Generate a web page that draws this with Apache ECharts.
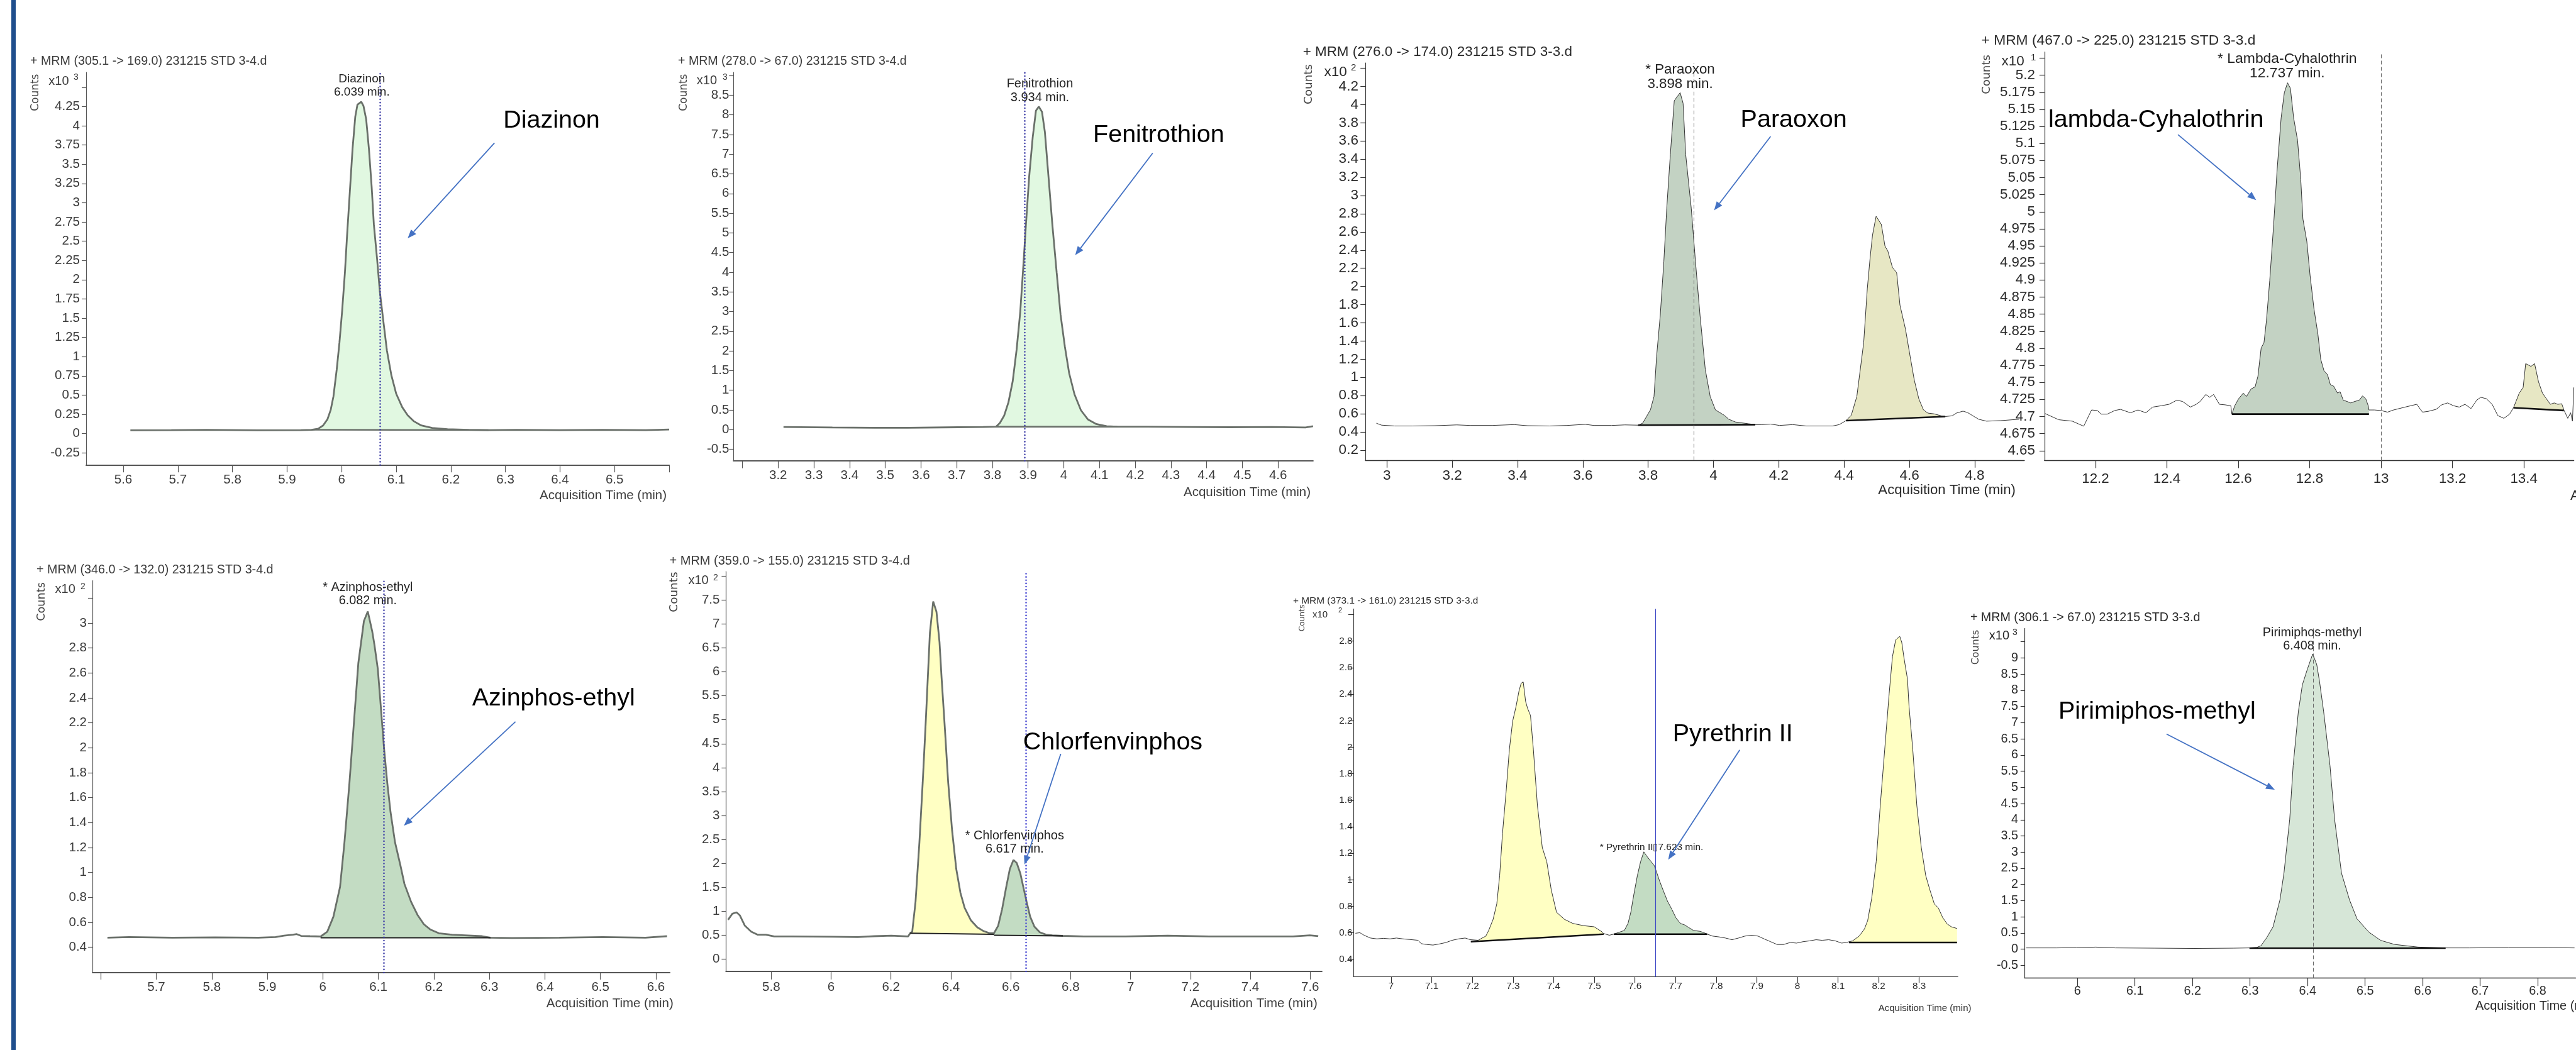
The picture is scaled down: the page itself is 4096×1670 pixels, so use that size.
<!DOCTYPE html>
<html><head><meta charset="utf-8">
<script src="https://cdn.jsdelivr.net/npm/echarts@6/dist/echarts.min.js"></script>
<style>html,body{margin:0;padding:0;background:#fff;overflow:hidden}#c{width:4096px;height:1670px}</style>
</head><body><div id="c"></div>
<script>
// ---------------- DATA (time in min, counts in the panel's x10^n unit) ----------------
const diazinonTrace = [[5.613,0.042],[5.688,0.045],[5.752,0.049],[5.846,0.042],[5.925,0.045],[5.945,0.049],[5.957,0.063],[5.966,0.105],[5.974,0.185],[5.980,0.308],[5.985,0.483],[5.991,0.832],[5.996,1.182],[6.001,1.601],[6.006,2.091],[6.010,2.580],[6.015,3.140],[6.020,3.699],[6.025,4.119],[6.029,4.276],[6.036,4.311],[6.040,4.259],[6.045,4.084],[6.050,3.699],[6.055,3.210],[6.059,2.720],[6.065,2.266],[6.070,1.846],[6.077,1.427],[6.083,1.077],[6.091,0.762],[6.100,0.517],[6.111,0.343],[6.121,0.238],[6.132,0.161],[6.146,0.105],[6.166,0.073],[6.194,0.056],[6.233,0.049],[6.269,0.045],[6.320,0.049],[6.399,0.045],[6.478,0.049],[6.557,0.045],[6.600,0.052]];
const diazinonBaselines = [[[5.945,0.049],[6.269,0.045]]];
const diazinonRT = 6.067;
const diazinonPeakLabel = ['Diazinon\n6.039 min.', 6.037, 4.52];
const diazinonCallout = ['Diazinon', 6.296, 4.066];
const diazinonArrow = [[6.280,3.776],[6.121,2.538]];
const diazinonXTicks = [5.6,5.7,5.8,5.9,6,6.1,6.2,6.3,6.4,6.5,6.6];
const diazinonXLabels = [5.6,5.7,5.8,5.9,6,6.1,6.2,6.3,6.4,6.5];
const diazinonYTicks = [-0.25,0,0.25,0.5,0.75,1,1.25,1.5,1.75,2,2.25,2.5,2.75,3,3.25,3.5,3.75,4,4.25,4.5];
const diazinonYLabels = [-0.25,0,0.25,0.5,0.75,1,1.25,1.5,1.75,2,2.25,2.5,2.75,3,3.25,3.5,3.75,4,4.25];

const fenitrothionTrace = [[3.215,0.067],[3.352,0.054],[3.470,0.047],[3.563,0.047],[3.704,0.061],[3.774,0.067],[3.810,0.074],[3.821,0.168],[3.833,0.357],[3.845,0.694],[3.857,1.233],[3.868,2.042],[3.878,2.985],[3.886,4.063],[3.894,5.209],[3.903,6.422],[3.913,7.433],[3.922,8.106],[3.930,8.208],[3.939,8.073],[3.947,7.567],[3.956,6.557],[3.968,5.209],[3.980,3.996],[3.991,2.918],[4.003,2.109],[4.015,1.435],[4.030,0.896],[4.048,0.492],[4.068,0.256],[4.091,0.142],[4.120,0.088],[4.150,0.074],[4.232,0.074],[4.349,0.067],[4.466,0.061],[4.583,0.067],[4.677,0.054],[4.698,0.088]];
const fenitrothionBaselines = [[[3.810,0.074],[4.150,0.074]]];
const fenitrothionRT = 3.889;
const fenitrothionPeakLabel = ['Fenitrothion\n3.934 min.', 3.933, 8.61];
const fenitrothionCallout = ['Fenitrothion', 4.082, 7.48];
const fenitrothionArrow = [[4.249,7.028],[4.032,4.434]];
const fenitrothionXTicks = [3.1,3.2,3.3,3.4,3.5,3.6,3.7,3.8,3.9,4,4.1,4.2,4.3,4.4,4.5,4.6];
const fenitrothionXLabels = [3.2,3.3,3.4,3.5,3.6,3.7,3.8,3.9,4,4.1,4.2,4.3,4.4,4.5,4.6];
const fenitrothionYTicks = [-0.5,0,0.5,1,1.5,2,2.5,3,3.5,4,4.5,5,5.5,6,6.5,7,7.5,8,8.5,9];
const fenitrothionYLabels = [-0.5,0,0.5,1,1.5,2,2.5,3,3.5,4,4.5,5,5.5,6,6.5,7,7.5,8,8.5];

const paraoxonTrace = [[2.968,0.496],[2.984,0.475],[3.024,0.466],[3.079,0.466],[3.146,0.469],[3.214,0.478],[3.255,0.472],[3.322,0.472],[3.390,0.481],[3.431,0.469],[3.498,0.466],[3.552,0.472],[3.607,0.484],[3.634,0.472],[3.688,0.472],[3.729,0.478],[3.769,0.475],[3.783,0.496],[3.807,0.643],[3.818,0.791],[3.826,1.235],[3.837,1.678],[3.848,2.270],[3.857,2.861],[3.868,3.452],[3.880,4.043],[3.898,4.132],[3.907,4.014],[3.915,3.452],[3.932,2.861],[3.945,2.270],[3.959,1.678],[3.975,1.087],[3.990,0.791],[4.006,0.643],[4.033,0.584],[4.047,0.540],[4.067,0.510],[4.108,0.490],[4.128,0.481],[4.148,0.481],[4.175,0.487],[4.202,0.472],[4.243,0.481],[4.284,0.466],[4.338,0.466],[4.365,0.466],[4.385,0.481],[4.406,0.525],[4.422,0.584],[4.439,0.791],[4.460,1.383],[4.471,1.974],[4.480,2.329],[4.487,2.565],[4.498,2.772],[4.514,2.683],[4.525,2.447],[4.534,2.388],[4.548,2.210],[4.561,2.151],[4.571,1.796],[4.588,1.530],[4.602,1.235],[4.615,0.969],[4.629,0.762],[4.643,0.643],[4.656,0.608],[4.676,0.599],[4.697,0.578],[4.710,0.570],[4.731,0.578],[4.744,0.608],[4.764,0.629],[4.778,0.614],[4.798,0.570],[4.812,0.540],[4.836,0.519],[4.880,0.525],[4.936,0.540]];
const paraoxonBaselines = [[[3.769,0.475],[4.128,0.481]],[[4.406,0.525],[4.710,0.570]]];
const paraoxonRT = 3.936;
const paraoxonPeakLabel = ['* Paraoxon\n3.898 min.', 3.898, 4.306];
const paraoxonCallout = ['Paraoxon', 4.083, 3.83];
const paraoxonArrow = [[4.175,3.650],[4.002,2.837]];
const paraoxonXTicks = [3,3.2,3.4,3.6,3.8,4,4.2,4.4,4.6,4.8];
const paraoxonXLabels = [3,3.2,3.4,3.6,3.8,4,4.2,4.4,4.6,4.8];
const paraoxonYTicks = [0.2,0.4,0.6,0.8,1,1.2,1.4,1.6,1.8,2,2.2,2.4,2.6,2.8,3,3.2,3.4,3.6,3.8,4,4.2,4.4];
const paraoxonYLabels = [0.2,0.4,0.6,0.8,1,1.2,1.4,1.6,1.8,2,2.2,2.4,2.6,2.8,3,3.2,3.4,3.6,3.8,4,4.2];

const cyhalothrinTrace = [[12.059,4.7043],[12.097,4.6953],[12.135,4.6932],[12.167,4.6858],[12.189,4.7096],[12.205,4.7088],[12.216,4.7035],[12.233,4.7035],[12.254,4.7088],[12.270,4.7105],[12.298,4.7055],[12.319,4.7096],[12.341,4.7055],[12.360,4.7138],[12.384,4.7158],[12.406,4.7179],[12.428,4.7240],[12.444,4.7220],[12.466,4.7138],[12.482,4.7179],[12.493,4.7220],[12.509,4.7323],[12.520,4.7282],[12.531,4.7323],[12.547,4.7179],[12.563,4.7171],[12.579,4.7158],[12.582,4.7035],[12.590,4.7158],[12.601,4.7261],[12.614,4.7343],[12.623,4.7294],[12.636,4.7405],[12.647,4.7434],[12.655,4.7590],[12.664,4.8002],[12.672,4.8084],[12.679,4.8413],[12.688,4.8989],[12.699,4.9812],[12.709,5.0634],[12.720,5.1375],[12.729,5.1745],[12.738,5.1889],[12.746,5.1807],[12.755,5.1375],[12.766,5.1046],[12.775,5.0470],[12.781,4.9894],[12.792,4.9565],[12.801,4.9071],[12.812,4.8577],[12.823,4.8207],[12.831,4.7837],[12.840,4.7672],[12.850,4.7611],[12.858,4.7467],[12.867,4.7446],[12.878,4.7343],[12.885,4.7364],[12.894,4.7240],[12.905,4.7220],[12.915,4.7199],[12.926,4.7220],[12.939,4.7240],[12.948,4.7302],[12.957,4.7261],[12.964,4.7158],[12.966,4.7096],[12.981,4.7096],[13.000,4.7088],[13.018,4.7064],[13.035,4.7096],[13.051,4.7117],[13.067,4.7138],[13.083,4.7158],[13.100,4.7179],[13.116,4.7064],[13.132,4.7076],[13.154,4.7105],[13.170,4.7171],[13.186,4.7199],[13.203,4.7158],[13.219,4.7138],[13.235,4.7179],[13.252,4.7117],[13.268,4.7240],[13.279,4.7282],[13.295,4.7261],[13.311,4.7179],[13.327,4.7014],[13.344,4.6973],[13.360,4.7035],[13.371,4.7129],[13.387,4.7343],[13.398,4.7426],[13.405,4.7775],[13.420,4.7734],[13.430,4.7775],[13.441,4.7508],[13.452,4.7343],[13.463,4.7261],[13.474,4.7179],[13.485,4.7199],[13.495,4.7179],[13.506,4.7187],[13.512,4.7096],[13.523,4.6973],[13.531,4.7055],[13.536,4.6932],[13.540,4.7426]];
const cyhalothrinBaselines = [[[12.582,4.7035],[12.966,4.7035]],[[13.371,4.7129],[13.512,4.7088]]];
const cyhalothrinRT = 13.0;
const cyhalothrinPeakLabel = ['* Lambda-Cyhalothrin\n12.737 min.', 12.737, 5.213];
const cyhalothrinCallout = ['lambda-Cyhalothrin', 12.068, 5.134];
const cyhalothrinArrow = [[12.431,5.113],[12.650,5.017]];
const cyhalothrinXTicks = [12.2,12.4,12.6,12.8,13,13.2,13.4];
const cyhalothrinXLabels = [12.2,12.4,12.6,12.8,13,13.2,13.4];
const cyhalothrinYTicks = [4.65,4.675,4.7,4.725,4.75,4.775,4.8,4.825,4.85,4.875,4.9,4.925,4.95,4.975,5,5.025,5.05,5.075,5.1,5.125,5.15,5.175,5.2,5.225];
const cyhalothrinYLabels = [4.65,4.675,4.7,4.725,4.75,4.775,4.8,4.825,4.85,4.875,4.9,4.925,4.95,4.975,5,5.025,5.05,5.075,5.1,5.125,5.15,5.175,5.2];

const azinphosTrace = [[5.612,0.4767],[5.651,0.4815],[5.729,0.4767],[5.806,0.4791],[5.884,0.4767],[5.915,0.4815],[5.930,0.4935],[5.946,0.5006],[5.953,0.5054],[5.961,0.4911],[5.977,0.4887],[5.996,0.4863],[6.008,0.5246],[6.019,0.6444],[6.031,0.8841],[6.039,1.2435],[6.048,1.7228],[6.056,2.2021],[6.064,2.6813],[6.074,3.0168],[6.081,3.0935],[6.089,2.9329],[6.093,2.8251],[6.099,2.6334],[6.105,2.2979],[6.110,2.0103],[6.116,1.7228],[6.122,1.4832],[6.130,1.2435],[6.140,1.0518],[6.147,0.9080],[6.159,0.7642],[6.171,0.6564],[6.182,0.5845],[6.194,0.5414],[6.209,0.5126],[6.233,0.5006],[6.256,0.4959],[6.287,0.4887],[6.302,0.4767],[6.341,0.4743],[6.426,0.4767],[6.504,0.4815],[6.581,0.4767],[6.620,0.4887]];
const azinphosBaselines = [[[5.996,0.476],[6.302,0.476]]];
const azinphosRT = 6.111;
const azinphosPeakLabel = ['* Azinphos-ethyl\n6.082 min.', 6.081, 3.232];
const azinphosCallout = ['Azinphos-ethyl', 6.269, 2.394];
const azinphosArrow = [[6.347,2.209],[6.146,1.375]];
const azinphosXTicks = [5.6,5.7,5.8,5.9,6,6.1,6.2,6.3,6.4,6.5,6.6];
const azinphosXLabels = [5.7,5.8,5.9,6,6.1,6.2,6.3,6.4,6.5,6.6];
const azinphosYTicks = [0.4,0.6,0.8,1,1.2,1.4,1.6,1.8,2,2.2,2.4,2.6,2.8,3,3.2];
const azinphosYLabels = [0.4,0.6,0.8,1,1.2,1.4,1.6,1.8,2,2.2,2.4,2.6,2.8,3];

const chlorfenvinphosTrace = [[5.656,0.8236],[5.670,0.9484],[5.684,0.9796],[5.695,0.9172],[5.712,0.6988],[5.733,0.5740],[5.754,0.5116],[5.782,0.5116],[5.810,0.4742],[5.866,0.4742],[6.005,0.4680],[6.089,0.4617],[6.145,0.4804],[6.201,0.4929],[6.257,0.4742],[6.264,0.5428],[6.271,0.5740],[6.282,1.1980],[6.295,2.4459],[6.306,3.6937],[6.316,4.9417],[6.330,6.8135],[6.341,7.4687],[6.352,7.2503],[6.362,6.6264],[6.369,5.8776],[6.380,4.8169],[6.391,3.6937],[6.404,2.6954],[6.418,1.8843],[6.432,1.3851],[6.446,1.0731],[6.467,0.8111],[6.488,0.6676],[6.509,0.5865],[6.530,0.5428],[6.544,0.5428],[6.558,0.6988],[6.571,1.0420],[6.585,1.5100],[6.597,1.8843],[6.609,2.0715],[6.620,2.0091],[6.632,1.7907],[6.643,1.4787],[6.653,1.1980],[6.665,0.8860],[6.679,0.6801],[6.697,0.5616],[6.718,0.5116],[6.739,0.4992],[6.774,0.4867],[6.844,0.4742],[6.984,0.4742],[7.124,0.4929],[7.263,0.4742],[7.403,0.4742],[7.543,0.4742],[7.599,0.4992],[7.627,0.4804]];
const chlorfenvinphosBaselines = [[[6.264,0.543],[6.544,0.520]],[[6.544,0.499],[6.774,0.487]]];
const chlorfenvinphosRT = 6.648;
const chlorfenvinphosPeakLabel = ['* Chlorfenvinphos\n6.617 min.', 6.613, 2.433];
const chlorfenvinphosCallout = ['Chlorfenvinphos', 6.641, 4.517];
const chlorfenvinphosArrow = [[6.767,4.287],[6.646,1.978]];
const chlorfenvinphosXTicks = [5.8,6,6.2,6.4,6.6,6.8,7,7.2,7.4,7.6];
const chlorfenvinphosXLabels = [5.8,6,6.2,6.4,6.6,6.8,7,7.2,7.4,7.6];
const chlorfenvinphosYTicks = [0,0.5,1,1.5,2,2.5,3,3.5,4,4.5,5,5.5,6,6.5,7,7.5,8];
const chlorfenvinphosYLabels = [0,0.5,1,1.5,2,2.5,3,3.5,4,4.5,5,5.5,6,6.5,7,7.5];

const pyrethrinTrace = [[6.912,0.5970],[6.923,0.6012],[6.933,0.5822],[6.949,0.5610],[6.965,0.5546],[6.981,0.5589],[6.997,0.5546],[7.013,0.5610],[7.029,0.5546],[7.044,0.5504],[7.066,0.5440],[7.074,0.5186],[7.087,0.5123],[7.103,0.5080],[7.119,0.5165],[7.135,0.5271],[7.150,0.5440],[7.166,0.5546],[7.182,0.5610],[7.195,0.5483],[7.214,0.5440],[7.233,0.5758],[7.240,0.6182],[7.251,0.7029],[7.260,0.8194],[7.267,1.0312],[7.274,1.3489],[7.283,1.6667],[7.291,1.9844],[7.299,2.1962],[7.307,2.3021],[7.315,2.4292],[7.320,2.4822],[7.325,2.4928],[7.331,2.3445],[7.336,2.2915],[7.343,2.2386],[7.350,1.9844],[7.360,1.5608],[7.372,1.2430],[7.383,1.1371],[7.394,0.9253],[7.407,0.7559],[7.426,0.7029],[7.447,0.6711],[7.474,0.6542],[7.500,0.6457],[7.519,0.6076],[7.523,0.5949],[7.537,0.5822],[7.548,0.5906],[7.564,0.6076],[7.574,0.6182],[7.583,0.6711],[7.590,0.7559],[7.597,0.8829],[7.606,1.0312],[7.614,1.1371],[7.622,1.2113],[7.629,1.1795],[7.640,1.1371],[7.648,1.1054],[7.654,1.0524],[7.661,0.9889],[7.669,0.9253],[7.680,0.8406],[7.691,0.7770],[7.701,0.7135],[7.712,0.6711],[7.722,0.6605],[7.733,0.6394],[7.744,0.6182],[7.760,0.6118],[7.770,0.6012],[7.778,0.5906],[7.791,0.5758],[7.807,0.5695],[7.823,0.5610],[7.839,0.5483],[7.855,0.5610],[7.871,0.5758],[7.887,0.5822],[7.903,0.5758],[7.918,0.5546],[7.934,0.5334],[7.950,0.5123],[7.966,0.5123],[7.982,0.5271],[7.998,0.5229],[8.014,0.5334],[8.030,0.5398],[8.046,0.5483],[8.061,0.5440],[8.077,0.5483],[8.093,0.5398],[8.109,0.5229],[8.120,0.5271],[8.136,0.5398],[8.152,0.5758],[8.165,0.6288],[8.173,0.6923],[8.183,0.8618],[8.194,1.1371],[8.204,1.5608],[8.215,1.9844],[8.226,2.4080],[8.234,2.6834],[8.242,2.8104],[8.252,2.8359],[8.257,2.7894],[8.263,2.6622],[8.271,2.5139],[8.275,2.3021],[8.284,1.9844],[8.294,1.5608],[8.305,1.2430],[8.316,1.0312],[8.326,0.9253],[8.337,0.8194],[8.347,0.7876],[8.358,0.7135],[8.369,0.6669],[8.379,0.6457],[8.393,0.6330]];
const pyrethrinBaselines = [[[7.196,0.5334],[7.523,0.5906]],[[7.548,0.5906],[7.778,0.5906]],[[8.127,0.5271],[8.393,0.5271]]];
const pyrethrinRT = 7.6515;
const pyrethrinPeakLabel = ['* Pyrethrin II\u25AF7.623 min.', 7.641, 1.243];
const pyrethrinCallout = ['Pyrethrin II', 7.693, 2.095];
const pyrethrinArrow = [[7.858,1.980],[7.682,1.152]];
const pyrethrinXTicks = [7,7.1,7.2,7.3,7.4,7.5,7.6,7.7,7.8,7.9,8,8.1,8.2,8.3];
const pyrethrinXLabels = [7,7.1,7.2,7.3,7.4,7.5,7.6,7.7,7.8,7.9,8,8.1,8.2,8.3];
const pyrethrinYTicks = [0.4,0.6,0.8,1,1.2,1.4,1.6,1.8,2,2.2,2.4,2.6,2.8,3];
const pyrethrinYLabels = [0.4,0.6,0.8,1,1.2,1.4,1.6,1.8,2,2.2,2.4,2.6,2.8];

const pirimiphosTrace = [[5.911,0.040],[5.964,0.040],[5.998,0.048],[6.032,0.065],[6.066,0.040],[6.135,0.032],[6.203,0.023],[6.271,0.032],[6.299,0.040],[6.312,0.057],[6.319,0.106],[6.329,0.356],[6.340,0.688],[6.352,1.520],[6.359,2.351],[6.369,4.014],[6.375,5.676],[6.384,7.339],[6.391,8.170],[6.400,8.669],[6.409,9.126],[6.416,8.793],[6.421,8.253],[6.428,7.339],[6.439,5.676],[6.447,4.014],[6.459,2.351],[6.473,1.520],[6.486,0.938],[6.507,0.522],[6.527,0.273],[6.551,0.148],[6.592,0.065],[6.640,0.040],[6.681,0.040],[6.749,0.048],[6.818,0.048],[6.864,0.040]];
const pirimiphosBaselines = [[[6.299,0.032],[6.640,0.032]]];
const pirimiphosRT = 6.410;
const pirimiphosPeakLabel = ['Pirimiphos-methyl\n6.408 min.', 6.408, 9.566];
const pirimiphosCallout = ['Pirimiphos-methyl', 5.967, 7.338];
const pirimiphosArrow = [[6.155,6.648],[6.343,4.928]];
const pirimiphosXTicks = [6,6.1,6.2,6.3,6.4,6.5,6.6,6.7,6.8];
const pirimiphosXLabels = [6,6.1,6.2,6.3,6.4,6.5,6.6,6.7,6.8];
const pirimiphosYTicks = [-0.5,0,0.5,1,1.5,2,2.5,3,3.5,4,4.5,5,5.5,6,6.5,7,7.5,8,8.5,9,9.5];
const pirimiphosYLabels = [-0.5,0,0.5,1,1.5,2,2.5,3,3.5,4,4.5,5,5.5,6,6.5,7,7.5,8,8.5,9];

const panelTitles = ['+ MRM (305.1 -> 169.0) 231215 STD 3-4.d','+ MRM (278.0 -> 67.0) 231215 STD 3-4.d','+ MRM (276.0 -> 174.0) 231215 STD 3-3.d','+ MRM (467.0 -> 225.0) 231215 STD 3-3.d','+ MRM (346.0 -> 132.0) 231215 STD 3-4.d','+ MRM (359.0 -> 155.0) 231215 STD 3-4.d','+ MRM (373.1 -> 161.0) 231215 STD 3-3.d','+ MRM (306.1 -> 67.0) 231215 STD 3-3.d'];
const panelExponents = ['3','3','2','1','2','2','2','3'];

// ---------------- LAYOUT & STYLE ----------------
const LS = '"Liberation Sans", Arial, Helvetica, sans-serif';
const DV = '"DejaVu Sans", Verdana, sans-serif';
const BLUE_DOT = {color:'#3c3ca6', width:2.5, type:[0.1,5], cap:'round'};
const GRAY_DASH = {color:'#6a6a6a', width:1, type:[6,4]};
const SOFT = {trace:{color:'#6a706a', width:2.8}, base:{color:'#6a706a', width:2.6}, axis:'#555', text:'#3c3c3c'};
const CRISP = {trace:{color:'#333', width:1}, base:{color:'#111', width:2.6}, axis:'#333', text:'#2a2a2a'};

const panels = [
 {trace:diazinonTrace, bl:diazinonBaselines, fills:['#e1f8e1'], rt:diazinonRT, rtStyle:BLUE_DOT, pl:diazinonPeakLabel, co:diazinonCallout, ar:diazinonArrow,
  xt:diazinonXTicks, xl:diazinonXLabels, yt:diazinonYTicks, yl:diazinonYLabels, st:SOFT,
  grid:[137,115,927,624.5], x:[5.532,6.6], y:[-0.408,4.695], fs:20.5, plFs:19, plLH:21.5, xMargin:13, yMargin:10, xTick:11.7, yTick:7, xAxisW:2.2,
  title:[48,98,19.7], counts:[56.6,147.2,17], x10:[77.3,129.3,20], sup:[117,123,14], aname:[1060,788,20.5,'right']},
 {trace:fenitrothionTrace, bl:fenitrothionBaselines, fills:['#e1f8e1'], rt:fenitrothionRT, rtStyle:BLUE_DOT, pl:fenitrothionPeakLabel, co:fenitrothionCallout, ar:fenitrothionArrow,
  xt:fenitrothionXTicks, xl:fenitrothionXLabels, yt:fenitrothionYTicks, yl:fenitrothionYLabels, st:SOFT,
  grid:[1166.3,115,921.5,618], x:[3.075,4.698], y:[-0.794,9.08], fs:20.5, plFs:20, plLH:21.5, xMargin:13, yMargin:7, xTick:11.7, yTick:7, xAxisW:2.2,
  title:[1078,98,19.6], counts:[1087.7,147.2,17], x10:[1107.8,128,20], sup:[1149,123,14], aname:[2084,783.7,20.5,'right']},
 {trace:paraoxonTrace, bl:paraoxonBaselines, fills:['#c3d2c3','#e7e7c4'], rt:paraoxonRT, rtStyle:GRAY_DASH, pl:paraoxonPeakLabel, co:paraoxonCallout, ar:paraoxonArrow,
  xt:paraoxonXTicks, xl:paraoxonXLabels, yt:paraoxonYTicks, yl:paraoxonYLabels, st:CRISP,
  grid:[2170.9,100,1048,631.8], x:[2.934,4.952], y:[0.0907,4.459], fs:22.5, plFs:22.3, plLH:22.7, xMargin:13, yMargin:11, xTick:12, yTick:7.7, xAxisW:1.3,
  title:[2071.7,83,22.4], counts:[2081.5,134,18.3], x10:[2105.4,115,22.5], sup:[2148,108,15], aname:[3205,779.7,22.2,'right']},
 {trace:cyhalothrinTrace, bl:cyhalothrinBaselines, fills:['#c3d2c3','#e7e7c4'], rt:cyhalothrinRT, rtStyle:GRAY_DASH, pl:cyhalothrinPeakLabel, co:cyhalothrinCallout, ar:cyhalothrinArrow,
  xt:cyhalothrinXTicks, xl:cyhalothrinXLabels, yt:cyhalothrinYTicks, yl:cyhalothrinYLabels, st:CRISP,
  grid:[3250.8,82.7,841.8,649.8], x:[12.057,13.54], y:[4.6355,5.234], fs:22.3, plFs:22.9, plLH:23.2, xMargin:18, yMargin:15, xTick:12, yTick:8, xAxisW:1.3,
  title:[3150.5,64.8,22.8], counts:[3159.6,118.5,17.9], x10:[3182.6,97.4,22.5], sup:[3229,91.6,15], aname:[4087,789,22.3,'left']},
 {trace:azinphosTrace, bl:azinphosBaselines, fills:['#c3dcc3'], rt:azinphosRT, rtStyle:BLUE_DOT, pl:azinphosPeakLabel, co:azinphosCallout, ar:azinphosArrow,
  xt:azinphosXTicks, xl:azinphosXLabels, yt:azinphosYTicks, yl:azinphosYLabels, st:{trace:SOFT.trace, base:{color:'#222', width:2}, axis:'#555', text:'#3c3c3c'},
  grid:[147,923.6,918,623.4], x:[5.585,6.625], y:[0.1963,3.34], fs:20.5, plFs:19.8, plLH:20.9, xMargin:12.5, yMargin:9, xTick:11, yTick:7, xAxisW:2.2,
  title:[58.1,907,19.7], counts:[66.7,957,17.7], x10:[87.6,937.9,20], sup:[128,933,14], aname:[868.8,1596,20.5,'left']},
 {trace:chlorfenvinphosTrace, bl:chlorfenvinphosBaselines, fills:['#ffffc3','#c3dcc3'], rt:chlorfenvinphosRT, rtStyle:{color:'#4040d0', width:2.5, type:[0.1,5], cap:'round'}, pl:chlorfenvinphosPeakLabel, co:chlorfenvinphosCallout, ar:chlorfenvinphosArrow,
  xt:chlorfenvinphosXTicks, xl:chlorfenvinphosXLabels, yt:chlorfenvinphosYTicks, yl:chlorfenvinphosYLabels, st:{trace:SOFT.trace, base:{color:'#222', width:2}, axis:'#555', text:'#3c3c3c'},
  grid:[1154.4,909.3,947.4,635.7], x:[5.649,7.639], y:[-0.255,8.09], fs:20.5, plFs:19.9, plLH:21.4, xMargin:14.5, yMargin:10, xTick:12.8, yTick:7, xAxisW:2.2,
  title:[1064.5,892.7,20], counts:[1072,941.6,18.4], x10:[1094.4,923.6,20], sup:[1134,919,14], aname:[1892.8,1596,20.5,'left']},
 {trace:pyrethrinTrace, bl:pyrethrinBaselines, fills:['#ffffc3','#c3dcc3','#ffffc3'], rt:pyrethrinRT, rtStyle:{color:'#3b46c4', width:1.2, type:'solid'}, pl:pyrethrinPeakLabel, co:pyrethrinCallout, ar:pyrethrinArrow,
  xt:pyrethrinXTicks, xl:pyrethrinXLabels, yt:pyrethrinYTicks, yl:pyrethrinYLabels, st:CRISP,
  grid:[2152,968.5,961.1,585], x:[6.907,8.395], y:[0.269,3.043], fs:15.3, plFs:15.4, plLH:17, xMargin:8, yMargin:1.5, xTick:9.8, yTick:8.2, xAxisW:1.2,
  title:[2056,956,15.4], counts:[2071,983,12.2], x10:[2087,977.5,15], sup:[2128,970.7,11], aname:[2986.7,1603.5,15,'left']},
 {trace:pirimiphosTrace, bl:pirimiphosBaselines, fills:['#d6e6d7'], rt:pirimiphosRT, rtStyle:GRAY_DASH, pl:pirimiphosPeakLabel, co:pirimiphosCallout, ar:pirimiphosArrow,
  xt:pirimiphosXTicks, xl:pirimiphosXLabels, yt:pirimiphosYTicks, yl:pirimiphosYLabels, st:CRISP,
  grid:[3219,999.6,876.5,555.9], x:[5.908,6.866], y:[-0.89,9.91], fs:19.8, plFs:19.8, plLH:21, xMargin:11.5, yMargin:10, xTick:12.8, yTick:6.2, xAxisW:1.3,
  title:[3132.9,982.4,19.7], counts:[3141.7,1029.5,15.9], x10:[3162.8,1011.5,20], sup:[3200,1006,14], aname:[3936,1601,19.9,'left']}
];

// ---------------- BUILD ----------------
const fmt = v => String(Math.round(v * 1000) / 1000);
const grids = [], xAxes = [], yAxes = [], series = [], graphics = [];

graphics.push({type:'rect', silent:true, shape:{x:18, y:0, width:7, height:1670}, style:{fill:'#1f4e8c'}});

function txt(x, y, text, size, family, fill, align, vAlign, rot) {
  return {type:'text', x:x, y:y, rotation:rot || 0, silent:true, z:10,
    style:{text:text, font: size + 'px ' + family, fill:fill, align:align, verticalAlign:vAlign, textAlign:align, textVerticalAlign:vAlign}};
}

panels.forEach((p, i) => {
  const [gl, gt, gw, gh] = p.grid;
  grids.push({left:gl, top:gt, width:gw, height:gh, containLabel:false, outerBoundsMode:'none'});
  xAxes.push({type:'value', gridIndex:i, min:p.x[0], max:p.x[1],
    axisLine:{show:true, onZero:false, lineStyle:{color:p.st.axis, width:p.xAxisW}},
    axisTick:{show:true, customValues:p.xt, length:p.xTick, lineStyle:{color:p.st.axis, width:1.2}},
    axisLabel:{show:true, customValues:p.xl, margin:p.xMargin, fontSize:p.fs, fontFamily:LS, color:p.st.text, formatter:fmt},
    splitLine:{show:false}});
  yAxes.push({type:'value', gridIndex:i, min:p.y[0], max:p.y[1],
    axisLine:{show:true, onZero:false, lineStyle:{color:p.st.axis, width:1.2}},
    axisTick:{show:true, customValues:p.yt, length:p.yTick, lineStyle:{color:p.st.axis, width:1.2}},
    axisLabel:{show:true, customValues:p.yl, margin:p.yMargin, fontSize:p.fs, fontFamily:LS, color:p.st.text, formatter:fmt},
    splitLine:{show:false}});

  // filled integration areas (trace points between the baseline ends)
  series.push({type:'custom', xAxisIndex:i, yAxisIndex:i, silent:true, z:1, data:[p.bl[0][0]],
    renderItem:(params, api) => ({type:'group', children:p.bl.map((b, k) => {
      const poly = [b[0]].concat(p.trace.filter(q => q[0] >= b[0][0] && q[0] <= b[1][0]), [b[1]]);
      return {type:'polygon', shape:{points:poly.map(q => api.coord(q))}, style:{fill:p.fills[k]}};
    })})});

  // chromatogram trace + retention-time marker
  series.push({type:'line', xAxisIndex:i, yAxisIndex:i, data:p.trace, symbol:'none', showSymbol:false, silent:true, z:3,
    lineStyle:{color:p.st.trace.color, width:p.st.trace.width}, clip:true,
    markLine:{silent:true, symbol:'none', label:{show:false}, lineStyle:p.rtStyle, data:[{xAxis:p.rt}]}});

  // integration baselines
  series.push({type:'custom', xAxisIndex:i, yAxisIndex:i, silent:true, z:4, data:[p.bl[0][0]],
    renderItem:(params, api) => ({type:'group', children:p.bl.map(b => {
      const a = api.coord(b[0]), c = api.coord(b[1]);
      return {type:'line', shape:{x1:a[0], y1:a[1], x2:c[0], y2:c[1]}, style:{stroke:p.st.base.color, lineWidth:p.st.base.width}};
    })})});

  // annotations: peak label, callout text, arrow
  series.push({type:'custom', xAxisIndex:i, yAxisIndex:i, silent:true, z:6, data:[[p.co[1], p.co[2]]],
    renderItem:(params, api) => {
      const els = [];
      const pl = api.coord([p.pl[1], p.pl[2]]);
      els.push({type:'text', x:pl[0], y:pl[1], style:{text:p.pl[0], font:p.plFs + 'px ' + LS, fill:'#222', align:'center', verticalAlign:'middle', textAlign:'center', textVerticalAlign:'middle', lineHeight:p.plLH}});
      const co = api.coord([p.co[1], p.co[2]]);
      els.push({type:'text', x:co[0], y:co[1], style:{text:p.co[0], font:'39.5px ' + LS, fill:'#000', align:'left', verticalAlign:'middle', textAlign:'left', textVerticalAlign:'middle'}});
      const a = api.coord(p.ar[0]), b = api.coord(p.ar[1]);
      const dx = b[0] - a[0], dy = b[1] - a[1], L = Math.hypot(dx, dy), ux = dx / L, uy = dy / L;
      const hl = 14, hw = 5.5, bx = b[0] - ux * hl, by = b[1] - uy * hl;
      els.push({type:'line', shape:{x1:a[0], y1:a[1], x2:bx, y2:by}, style:{stroke:'#4472c4', lineWidth:1.8}});
      els.push({type:'polygon', shape:{points:[[b[0], b[1]], [bx - uy * hw, by + ux * hw], [bx + uy * hw, by - ux * hw]]}, style:{fill:'#4472c4'}});
      return {type:'group', children:els};
    }});

  // static texts
  graphics.push(txt(p.title[0], p.title[1], panelTitles[i], p.title[2], LS, p.st.text, 'left', 'middle'));
  graphics.push(txt(p.counts[0], p.counts[1], 'Counts', p.counts[2], DV, '#444', 'center', 'middle', Math.PI / 2));
  graphics.push(txt(p.x10[0], p.x10[1], 'x10', p.x10[2], LS, p.st.text, 'left', 'middle'));
  graphics.push(txt(p.sup[0], p.sup[1], panelExponents[i], p.sup[2], LS, p.st.text, 'left', 'middle'));
  graphics.push(txt(p.aname[0], p.aname[1], 'Acquisition Time (min)', p.aname[2], LS, p.st.text, p.aname[3], 'middle'));
});

const chart = echarts.init(document.getElementById('c'), null, {renderer:'canvas', width:4096, height:1670});
chart.setOption({
  animation:false, backgroundColor:'#ffffff',
  grid:grids, xAxis:xAxes, yAxis:yAxes, series:series,
  graphic:{elements:graphics}
});
</script>
</body></html>
